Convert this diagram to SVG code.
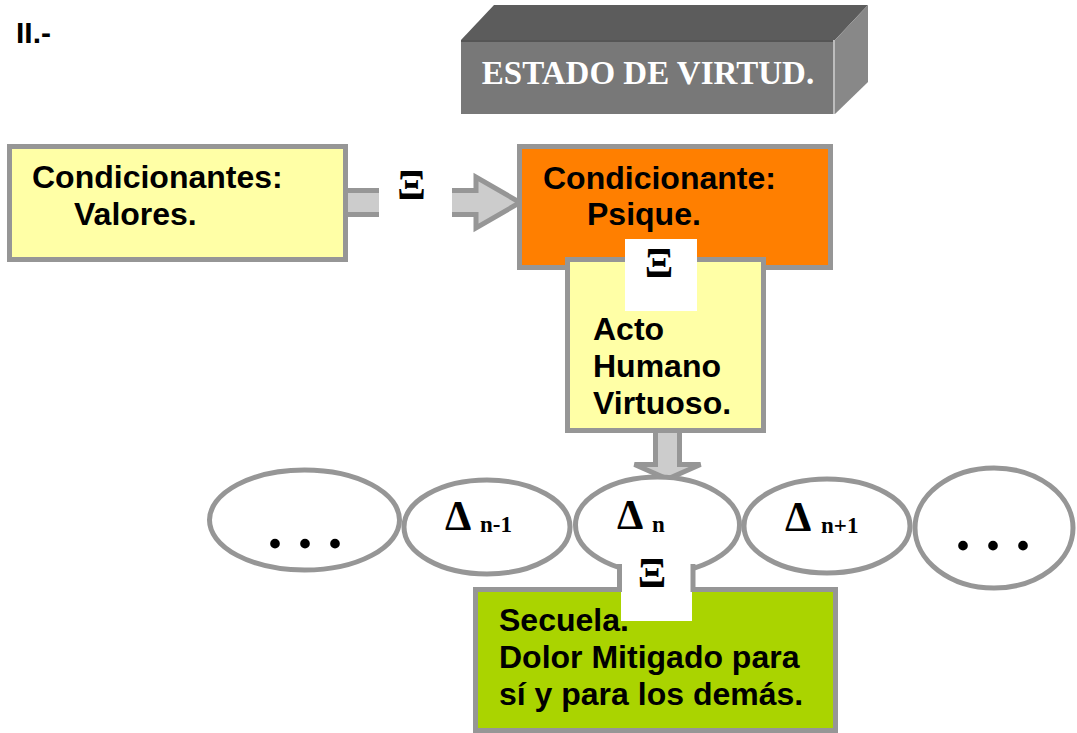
<svg xmlns="http://www.w3.org/2000/svg" width="1077" height="733" viewBox="0 0 1077 733">
<style>
.box{stroke:#969696;stroke-width:5}
.sans{font-family:"Liberation Sans",Arial,sans-serif;font-weight:bold;font-size:32px;fill:#000}
.serif{font-family:"Liberation Serif","Times New Roman",serif;font-weight:bold;fill:#000}
.sub{font-family:"Liberation Serif","Times New Roman",serif;font-weight:bold;font-size:23px;fill:#000}
.xi{font-family:"Liberation Serif","Times New Roman",serif;font-weight:bold;font-size:42px;fill:#000;text-anchor:middle}
.ell{fill:#fff;stroke:#969696;stroke-width:5}
.arrow{fill:#cccccc;stroke:#969696;stroke-width:5;stroke-linejoin:miter}
</style>
<rect width="1077" height="733" fill="#fff"/>
<text id="title" x="16" y="43" class="sans" style="font-size:30px">II.-</text>

<g id="estado">
<polygon points="461,40 494,5 868,5 835,40" fill="#5c5c5c"/>
<polygon points="835,40 868,5 868,82 835,114" fill="#888888"/>
<rect x="461" y="40" width="374" height="74" fill="#787878"/>
<line x1="461" y1="41" x2="835" y2="41" stroke="#555" stroke-width="2"/>
<line x1="834" y1="40" x2="834" y2="114" stroke="#bdbdbd" stroke-width="2"/>
<text x="648" y="84" class="serif" style="font-size:33px;fill:#fff;text-anchor:middle">ESTADO DE VIRTUD.</text>
</g>

<g id="connectors">
<polygon class="arrow" points="340,190.5 476,190.5 476,177 520,202.5 476,228 476,214.5 340,214.5"/>
<rect x="379" y="168" width="73" height="66" fill="#fff"/>
<text x="411.5" y="199" class="xi">Ξ</text>
<polygon class="arrow" points="655.5,420 679.5,420 679.5,464.5 700.5,464.5 667.5,479 634.5,464.5 655.5,464.5"/>
</g>

<g id="valores">
<rect x="9.5" y="146.5" width="336" height="113" fill="#FFFFA6" class="box"/>
<text x="32" y="188" class="sans">Condicionantes:</text>
<text x="74" y="225" class="sans">Valores.</text>
</g>

<g id="psique">
<rect x="519.5" y="146.5" width="311" height="121" fill="#FF7F00" class="box"/>
<text x="543" y="189" class="sans">Condicionante:</text>
<text x="587" y="225" class="sans">Psique.</text>
</g>

<g id="acto">
<rect x="567.5" y="259.5" width="196" height="171" fill="#FFFFA6" class="box"/>
<rect x="625" y="239" width="72" height="72" fill="#fff"/>
<text x="659" y="277" class="xi">Ξ</text>
<text x="593" y="340" class="sans">Acto</text>
<text x="593" y="377" class="sans">Humano</text>
<text x="593" y="414" class="sans">Virtuoso.</text>
</g>

<g id="e1">
<ellipse cx="304.5" cy="520" rx="95" ry="50" class="ell"/>
<text x="267.5" y="548" class="serif" style="font-size:60px">. . .</text>
</g>
<g id="e2">
<ellipse cx="487" cy="527" rx="83" ry="47" class="ell"/>
<text x="445" y="530" class="serif" style="font-size:42px">Δ</text>
<text x="480" y="532" class="sub">n-1</text>
</g>
<g id="e4">
<ellipse cx="827" cy="526" rx="83" ry="47" class="ell"/>
<text x="785" y="531" class="serif" style="font-size:42px">Δ</text>
<text x="821" y="533" class="sub">n+1</text>
</g>
<g id="e5">
<ellipse cx="994" cy="528" rx="79" ry="60" class="ell"/>
<text x="955.5" y="550" class="serif" style="font-size:60px">. . .</text>
</g>
<g id="e3">
<ellipse cx="657.5" cy="525" rx="82" ry="48" class="ell"/>
<text x="617" y="529" class="serif" style="font-size:42px">Δ</text>
<text x="652" y="532" class="sub">n</text>
</g>

<g id="secuela">
<rect x="475.5" y="589.5" width="360" height="141" fill="#AAD400" class="box"/>
<rect x="621" y="552" width="71" height="69" fill="#fff"/>
<line x1="619.5" y1="564" x2="619.5" y2="592" stroke="#969696" stroke-width="5"/>
<line x1="693" y1="564" x2="693" y2="592" stroke="#969696" stroke-width="5"/>
<text x="652" y="587" class="xi">Ξ</text>
<text x="499" y="631" class="sans">Secuela.</text>
<text x="499" y="668" class="sans">Dolor Mitigado para</text>
<text x="499" y="705" class="sans">sí y para los demás.</text>
</g>
</svg>
